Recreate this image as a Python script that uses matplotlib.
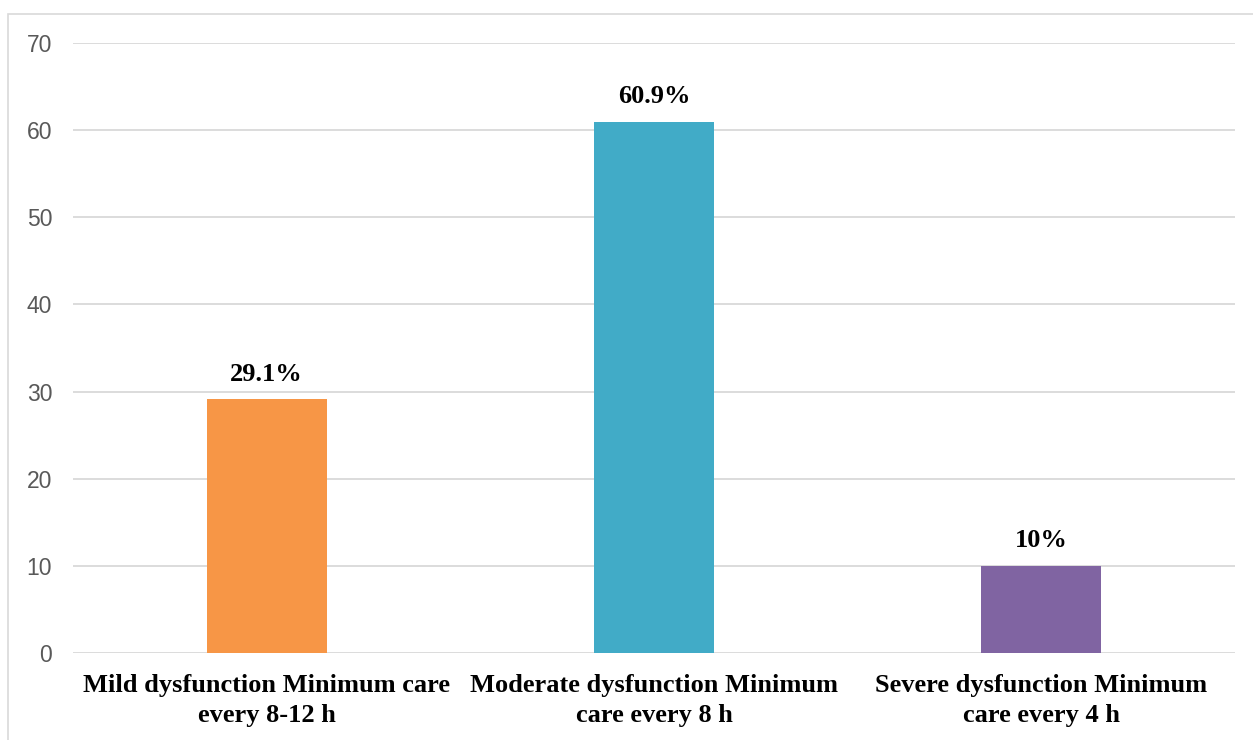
import matplotlib.pyplot as plt
from matplotlib.patches import Rectangle

# data
categories = ['Mild dysfunction Minimum care\nevery 8-12 h',
              'Moderate dysfunction Minimum\ncare every 8 h',
              'Severe dysfunction Minimum\ncare every 4 h']
values = [29.1, 60.9, 10]
value_labels = ['29.1%', '60.9%', '10%']
colors = ['#F79646', '#41ABC7', '#8064A2']
yticks = [0, 10, 20, 30, 40, 50, 60, 70]

W, H = 1253, 740
fig = plt.figure(figsize=(W / 100, H / 100), dpi=100)
ax = fig.add_axes([73 / W, 1 - 653 / H, (1235 - 73) / W, (653 - 43) / H])

x = range(len(categories))
bars = ax.bar(x, values, width=0.31, color=colors, zorder=3)

for bar, lab in zip(bars, value_labels):
    ax.annotate(lab, xy=(bar.get_x() + bar.get_width() / 2, bar.get_height()),
                xytext=(0, 10), textcoords='offset points',
                ha='center', va='bottom', fontsize=19, fontweight='bold',
                family='Liberation Serif', color='black')

ax.set_xlim(-0.5, 2.5)
ax.set_ylim(0, 70)
ax.set_yticks(yticks)
ax.set_yticklabels([str(t) for t in yticks], family='Liberation Sans',
                   fontsize=16.5, color='#595959')
ax.set_xticks(list(x))
ax.set_xticklabels(categories, family='Liberation Serif', fontsize=19,
                   fontweight='bold', linespacing=1.42)
ax.tick_params(axis='y', length=0, pad=15)
ax.tick_params(axis='x', length=0, pad=15)

ax.grid(axis='y', color='#D9D9D9', linewidth=1.3, zorder=0)
for s in ax.spines.values():
    s.set_visible(False)

# light chart-area border (only left and top are in frame)
fig.patches.append(Rectangle((8 / W, -0.1), 1.2, 1 - 14 / H + 0.1,
                             transform=fig.transFigure, fill=False,
                             edgecolor='#D9D9D9', linewidth=1.2))

fig.savefig('out.png', dpi=100)
